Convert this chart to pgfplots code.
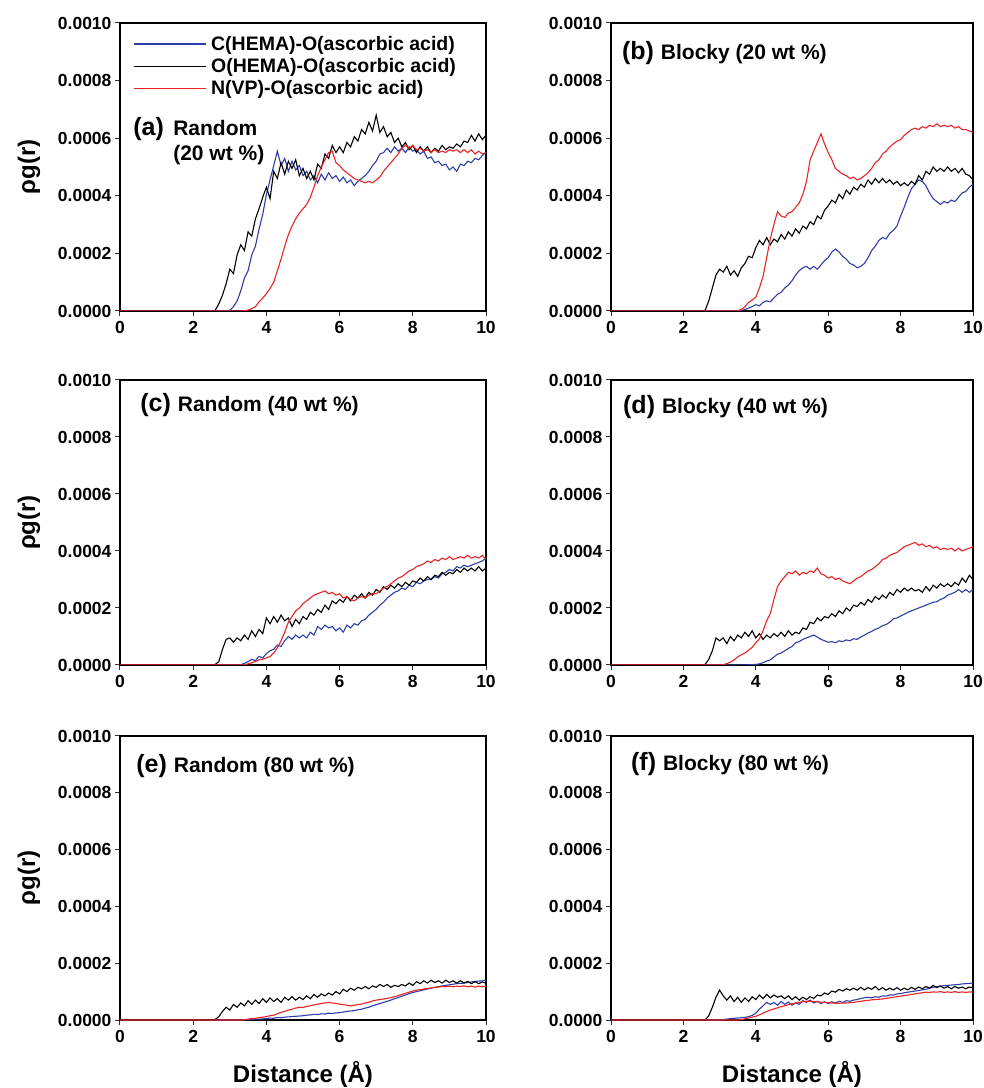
\documentclass[border=0pt]{standalone}
\usepackage{fontspec}
\setmainfont{Liberation Sans}
\usepackage{pgfplots}
\usepackage{pgfplotstable}
\pgfplotsset{compat=1.18}
\definecolor{cblue}{RGB}{45,62,168}
\definecolor{cred}{RGB}{232,36,36}

% units: 1e-4 ; columns x C(HEMA) O(HEMA) N(VP)
\pgfplotstableread{
x C O N
0 0 0 0
2.5 0 0 0
2.6 0 0.02 0
2.7 0 0.25 0
2.8 0 0.55 0
2.9 0 0.95 0
3.0 0.02 1.45 0
3.1 0.15 1.30 0
3.2 0.35 1.95 0
3.3 0.70 2.30 0
3.4 1.15 2.10 0.01
3.5 1.40 2.75 0.03
3.6 1.95 2.60 0.08
3.7 2.25 3.20 0.15
3.8 2.85 3.55 0.32
3.9 3.35 3.95 0.45
4.0 4.05 4.30 0.60
4.1 4.55 3.90 0.78
4.2 5.05 4.85 1.00
4.3 5.55 4.60 1.40
4.4 5.05 5.15 1.80
4.5 5.30 4.75 2.25
4.6 4.85 5.20 2.65
4.7 5.20 4.95 2.95
4.8 4.90 5.25 3.20
4.9 5.05 4.70 3.40
5.0 4.70 4.95 3.55
5.1 4.85 4.60 3.70
5.2 4.55 4.85 3.95
5.3 4.70 4.55 4.30
5.4 4.45 5.10 4.70
5.5 4.75 4.95 5.00
5.6 4.55 5.45 5.25
5.7 4.80 5.30 5.50
5.8 4.60 5.75 5.55
5.9 4.70 5.50 5.15
6.0 4.50 5.70 5.05
6.1 4.65 5.50 4.90
6.2 4.45 5.85 4.80
6.3 4.55 5.70 4.70
6.4 4.35 6.05 4.60
6.5 4.50 5.90 4.55
6.6 4.60 6.30 4.50
6.7 4.70 6.15 4.45
6.8 4.85 6.55 4.50
6.9 5.05 6.25 4.45
7.0 5.20 6.80 4.55
7.1 5.45 6.20 4.65
7.2 5.50 6.40 4.85
7.3 5.65 6.05 5.00
7.4 5.50 6.20 5.15
7.5 5.70 5.85 5.30
7.6 5.55 6.00 5.45
7.7 5.65 5.70 5.65
7.8 5.50 5.85 5.75
7.9 5.70 5.60 5.65
8.0 5.55 5.75 5.75
8.1 5.60 5.50 5.60
8.2 5.45 5.70 5.65
8.3 5.55 5.55 5.55
8.4 5.30 5.70 5.60
8.5 5.35 5.50 5.50
8.6 5.15 5.65 5.60
8.7 5.20 5.55 5.50
8.8 5.05 5.75 5.55
8.9 5.10 5.60 5.50
9.0 4.90 5.70 5.60
9.1 5.00 5.65 5.55
9.2 4.85 5.80 5.60
9.3 5.10 5.70 5.50
9.4 5.05 5.90 5.60
9.5 5.20 5.85 5.50
9.6 5.15 6.10 5.60
9.7 5.30 5.90 5.45
9.8 5.25 6.15 5.55
9.9 5.40 5.95 5.45
10.0 5.50 6.10 5.50
}\dataA

\pgfplotstableread{
x C O N
0 0 0 0
2.5 0 0 0
2.6 0 0.02 0
2.7 0 0.35 0
2.8 0 0.80 0
2.9 0 1.25 0
3.0 0 1.45 0
3.1 0 1.35 0
3.2 0 1.55 0
3.3 0 1.25 0
3.4 0 1.40 0
3.5 0.01 1.20 0.01
3.6 0.02 1.50 0.05
3.7 0.05 1.65 0.15
3.8 0.10 1.90 0.30
3.9 0.15 1.85 0.38
4.0 0.22 2.20 0.48
4.1 0.18 2.45 0.80
4.2 0.30 2.30 1.20
4.3 0.35 2.55 1.85
4.4 0.32 2.30 2.50
4.5 0.45 2.50 3.00
4.6 0.58 2.40 3.45
4.7 0.65 2.65 3.30
4.8 0.80 2.50 3.25
4.9 0.90 2.75 3.40
5.0 1.05 2.60 3.45
5.1 1.25 2.85 3.60
5.2 1.40 2.70 3.75
5.3 1.50 2.95 4.05
5.4 1.55 2.85 4.50
5.5 1.45 3.10 5.25
5.6 1.55 3.00 5.55
5.7 1.45 3.30 5.85
5.8 1.60 3.20 6.15
5.9 1.75 3.50 5.80
6.0 1.85 3.65 5.50
6.1 2.05 3.85 5.25
6.2 2.15 3.75 4.95
6.3 2.05 4.05 4.85
6.4 1.90 3.90 4.75
6.5 1.80 4.20 4.70
6.6 1.65 4.05 4.60
6.7 1.60 4.30 4.65
6.8 1.50 4.20 4.55
6.9 1.55 4.40 4.60
7.0 1.65 4.30 4.70
7.1 1.85 4.55 4.80
7.2 2.10 4.40 4.95
7.3 2.25 4.60 5.15
7.4 2.45 4.45 5.25
7.5 2.55 4.60 5.45
7.6 2.50 4.45 5.55
7.7 2.70 4.55 5.70
7.8 2.80 4.40 5.80
7.9 2.95 4.50 5.90
8.0 3.30 4.35 5.95
8.1 3.60 4.45 6.10
8.2 3.95 4.35 6.20
8.3 4.25 4.50 6.30
8.4 4.40 4.40 6.35
8.5 4.55 4.70 6.30
8.6 4.50 4.55 6.40
8.7 4.35 4.85 6.35
8.8 4.10 4.75 6.45
8.9 3.90 5.00 6.40
9.0 3.80 4.85 6.50
9.1 3.70 4.95 6.40
9.2 3.80 4.85 6.45
9.3 3.75 5.00 6.40
9.4 3.85 4.85 6.45
9.5 3.80 4.95 6.35
9.6 3.95 4.80 6.40
9.7 4.10 4.95 6.30
9.8 4.15 4.75 6.30
9.9 4.30 4.70 6.25
10.0 4.40 4.55 6.20
}\dataB

\pgfplotstableread{
x C O N
0 0 0 0
2.5 0 0 0
2.6 0 0.02 0
2.7 0 0.12 0
2.8 0 0.55 0
2.9 0 0.90 0
3.0 0 0.95 0
3.1 0 0.80 0
3.2 0 0.95 0
3.3 0.01 0.85 0
3.4 0.06 1.05 0.01
3.5 0.12 0.90 0.04
3.6 0.20 1.20 0.08
3.7 0.15 1.00 0.12
3.8 0.30 1.25 0.18
3.9 0.25 1.10 0.20
4.0 0.40 1.65 0.25
4.1 0.50 1.45 0.30
4.2 0.55 1.70 0.42
4.3 0.70 1.50 0.60
4.4 0.65 1.75 0.85
4.5 0.85 1.55 1.15
4.6 1.00 1.65 1.50
4.7 0.90 1.35 1.70
4.8 1.05 1.60 1.90
4.9 0.95 1.45 2.00
5.0 1.05 1.70 2.15
5.1 0.95 1.60 2.25
5.2 1.15 1.85 2.35
5.3 1.05 1.75 2.45
5.4 1.35 1.95 2.50
5.5 1.25 1.85 2.55
5.6 1.40 2.10 2.60
5.7 1.30 1.95 2.50
5.8 1.35 2.25 2.55
5.9 1.20 2.15 2.45
6.0 1.30 2.30 2.50
6.1 1.15 2.20 2.35
6.2 1.40 2.40 2.40
6.3 1.30 2.25 2.30
6.4 1.45 2.45 2.25
6.5 1.40 2.35 2.35
6.6 1.55 2.50 2.40
6.7 1.60 2.35 2.35
6.8 1.75 2.55 2.45
6.9 1.85 2.45 2.50
7.0 1.95 2.65 2.50
7.1 2.10 2.55 2.60
7.2 2.20 2.75 2.70
7.3 2.35 2.65 2.75
7.4 2.45 2.80 2.85
7.5 2.55 2.70 2.95
7.6 2.60 2.85 3.05
7.7 2.70 2.75 3.10
7.8 2.65 2.90 3.20
7.9 2.80 2.80 3.30
8.0 2.75 2.95 3.35
8.1 2.90 2.90 3.45
8.2 2.85 3.05 3.50
8.3 2.95 2.95 3.55
8.4 3.00 3.10 3.65
8.5 3.00 3.00 3.60
8.6 3.10 3.15 3.70
8.7 3.05 3.10 3.65
8.8 3.20 3.25 3.75
8.9 3.25 3.15 3.70
9.0 3.35 3.25 3.80
9.1 3.30 3.20 3.70
9.2 3.45 3.35 3.75
9.3 3.40 3.25 3.80
9.4 3.50 3.40 3.75
9.5 3.45 3.30 3.85
9.6 3.50 3.40 3.75
9.7 3.55 3.30 3.80
9.8 3.60 3.45 3.75
9.9 3.65 3.30 3.85
10.0 3.75 3.40 3.70
}\dataC

\pgfplotstableread{
x C O N
0 0 0 0
2.5 0 0 0
2.6 0 0.02 0
2.7 0 0.20 0
2.8 0 0.50 0
2.9 0 0.95 0
3.0 0 0.85 0
3.1 0 0.95 0.01
3.2 0 0.75 0.05
3.3 0 1.00 0.10
3.4 0 0.85 0.18
3.5 0 1.05 0.28
3.6 0 0.95 0.36
3.7 0 1.15 0.42
3.8 0.01 1.00 0.52
3.9 0.01 1.20 0.62
4.0 0.02 0.95 0.78
4.1 0.04 1.10 0.92
4.2 0.08 0.90 1.20
4.3 0.14 1.05 1.55
4.4 0.18 0.95 1.80
4.5 0.28 1.10 2.30
4.6 0.38 1.00 2.75
4.7 0.42 1.15 2.95
4.8 0.50 1.00 3.10
4.9 0.58 1.20 3.25
5.0 0.65 1.05 3.20
5.1 0.78 1.15 3.30
5.2 0.82 1.10 3.15
5.3 0.90 1.30 3.25
5.4 0.95 1.25 3.20
5.5 1.00 1.50 3.30
5.6 1.05 1.45 3.25
5.7 0.98 1.65 3.40
5.8 0.90 1.55 3.20
5.9 0.85 1.70 3.15
6.0 0.80 1.65 3.05
6.1 0.82 1.80 3.10
6.2 0.78 1.70 3.00
6.3 0.85 1.90 3.05
6.4 0.82 1.80 2.95
6.5 0.88 2.00 2.90
6.6 0.85 1.90 2.85
6.7 0.92 2.10 2.95
6.8 0.90 2.05 3.05
6.9 0.98 2.20 3.10
7.0 1.05 2.10 3.20
7.1 1.12 2.30 3.30
7.2 1.18 2.20 3.35
7.3 1.25 2.40 3.45
7.4 1.30 2.30 3.55
7.5 1.38 2.45 3.70
7.6 1.42 2.35 3.75
7.7 1.50 2.55 3.85
7.8 1.62 2.45 3.90
7.9 1.65 2.65 3.95
8.0 1.72 2.55 4.05
8.1 1.78 2.70 4.15
8.2 1.85 2.60 4.20
8.3 1.90 2.70 4.25
8.4 1.95 2.60 4.30
8.5 2.00 2.65 4.20
8.6 2.05 2.55 4.25
8.7 2.10 2.75 4.15
8.8 2.15 2.60 4.20
8.9 2.20 2.80 4.10
9.0 2.22 2.70 4.15
9.1 2.30 2.85 4.05
9.2 2.35 2.75 4.10
9.3 2.45 2.85 4.05
9.4 2.50 2.75 4.10
9.5 2.55 2.90 4.00
9.6 2.65 2.80 4.10
9.7 2.55 3.05 4.00
9.8 2.65 2.90 4.05
9.9 2.55 3.15 4.10
10.0 2.65 3.00 4.15
}\dataD

\pgfplotstableread{
x C O N
0 0 0 0
2.5 0 0 0
2.6 0 0.02 0
2.7 0 0.12 0
2.8 0 0.30 0
2.9 0 0.45 0
3.0 0 0.35 0
3.1 0 0.55 0
3.2 0 0.45 0
3.3 0 0.60 0
3.4 0 0.50 0.01
3.5 0.01 0.68 0.03
3.6 0.02 0.55 0.05
3.7 0.03 0.70 0.06
3.8 0.03 0.58 0.08
3.9 0.04 0.75 0.10
4.0 0.05 0.62 0.12
4.1 0.07 0.78 0.15
4.2 0.06 0.65 0.17
4.3 0.09 0.75 0.22
4.4 0.08 0.62 0.27
4.5 0.10 0.80 0.30
4.6 0.11 0.70 0.35
4.7 0.12 0.82 0.38
4.8 0.13 0.70 0.42
4.9 0.14 0.80 0.45
5.0 0.15 0.72 0.44
5.1 0.17 0.85 0.48
5.2 0.18 0.75 0.50
5.3 0.20 0.90 0.53
5.4 0.19 0.80 0.56
5.5 0.22 0.92 0.58
5.6 0.21 0.85 0.60
5.7 0.24 0.95 0.62
5.8 0.23 0.88 0.60
5.9 0.25 1.00 0.58
6.0 0.26 0.92 0.56
6.1 0.28 1.08 0.54
6.2 0.30 1.00 0.52
6.3 0.32 1.12 0.50
6.4 0.33 1.05 0.52
6.5 0.36 1.15 0.54
6.6 0.38 1.10 0.56
6.7 0.42 1.18 0.60
6.8 0.45 1.10 0.63
6.9 0.50 1.20 0.67
7.0 0.54 1.15 0.70
7.1 0.58 1.25 0.72
7.2 0.62 1.18 0.74
7.3 0.66 1.25 0.76
7.4 0.70 1.15 0.79
7.5 0.75 1.22 0.82
7.6 0.79 1.18 0.86
7.7 0.84 1.25 0.90
7.8 0.88 1.20 0.94
7.9 0.93 1.30 0.98
8.0 0.97 1.22 1.02
8.1 1.00 1.35 1.05
8.2 1.03 1.28 1.07
8.3 1.06 1.38 1.09
8.4 1.09 1.30 1.11
8.5 1.12 1.40 1.13
8.6 1.15 1.32 1.15
8.7 1.17 1.38 1.16
8.8 1.20 1.30 1.18
8.9 1.22 1.40 1.17
9.0 1.24 1.32 1.19
9.1 1.26 1.38 1.17
9.2 1.28 1.30 1.19
9.3 1.29 1.38 1.18
9.4 1.30 1.30 1.20
9.5 1.32 1.36 1.17
9.6 1.34 1.28 1.19
9.7 1.36 1.35 1.16
9.8 1.37 1.28 1.19
9.9 1.38 1.34 1.17
10.0 1.40 1.30 1.19
}\dataE

\pgfplotstableread{
x C O N
0 0 0 0
2.5 0 0 0
2.6 0 0 0
2.7 0 0.15 0
2.8 0 0.45 0
2.9 0 0.80 0
3.0 0 1.05 0
3.1 0.02 0.85 0
3.2 0.03 0.70 0
3.3 0.05 0.85 0
3.4 0.06 0.65 0
3.5 0.07 0.80 0
3.6 0.08 0.62 0.01
3.7 0.09 0.78 0.04
3.8 0.12 0.65 0.07
3.9 0.16 0.82 0.10
4.0 0.24 0.72 0.13
4.1 0.38 0.88 0.18
4.2 0.50 0.75 0.24
4.3 0.62 0.90 0.30
4.4 0.55 0.78 0.35
4.5 0.62 0.88 0.39
4.6 0.52 0.80 0.43
4.7 0.65 0.85 0.47
4.8 0.55 0.75 0.50
4.9 0.63 0.85 0.54
5.0 0.52 0.72 0.57
5.1 0.60 0.82 0.60
5.2 0.55 0.70 0.62
5.3 0.68 0.80 0.65
5.4 0.62 0.72 0.66
5.5 0.70 0.82 0.66
5.6 0.60 0.76 0.65
5.7 0.66 0.88 0.64
5.8 0.58 0.85 0.63
5.9 0.64 0.95 0.62
6.0 0.58 0.90 0.61
6.1 0.64 1.02 0.60
6.2 0.60 0.98 0.59
6.3 0.66 1.08 0.59
6.4 0.62 1.02 0.60
6.5 0.68 1.10 0.60
6.6 0.66 1.05 0.61
6.7 0.70 1.12 0.62
6.8 0.72 1.05 0.64
6.9 0.76 1.15 0.66
7.0 0.78 1.06 0.68
7.1 0.80 1.14 0.69
7.2 0.78 1.08 0.71
7.3 0.82 1.18 0.72
7.4 0.80 1.06 0.73
7.5 0.85 1.14 0.74
7.6 0.84 1.05 0.76
7.7 0.88 1.12 0.78
7.8 0.88 1.06 0.80
7.9 0.92 1.14 0.82
8.0 0.93 1.05 0.84
8.1 0.96 1.12 0.86
8.2 0.98 1.06 0.88
8.3 1.00 1.15 0.90
8.4 1.02 1.08 0.92
8.5 1.04 1.16 0.94
8.6 1.06 1.10 0.96
8.7 1.08 1.18 0.98
8.8 1.12 1.12 0.97
8.9 1.15 1.22 0.99
9.0 1.18 1.14 0.98
9.1 1.19 1.20 1.00
9.2 1.21 1.12 0.97
9.3 1.22 1.18 0.99
9.4 1.23 1.10 0.97
9.5 1.24 1.18 1.00
9.6 1.25 1.12 0.97
9.7 1.27 1.16 0.99
9.8 1.28 1.10 0.97
9.9 1.29 1.16 0.99
10.0 1.30 1.14 0.98
}\dataF

\pgfplotsset{
  rdf/.style={
    scale only axis, anchor=south west,
    xmin=0, xmax=10, ymin=0, ymax=0.001,
    xtick={0,2,4,6,8,10}, xticklabels={0,2,4,6,8,10},
    ytick={0,0.0002,0.0004,0.0006,0.0008,0.001},
    yticklabels={0.0000,0.0002,0.0004,0.0006,0.0008,0.0010},
    scaled y ticks=false, scaled x ticks=false,
    tick align=outside, xtick pos=left, ytick pos=left,
    major tick length=5pt,
    tick style={line width=1pt, black!80},
    axis line style={line width=1.8pt},
    tick label style={font=\fontsize{17.5}{18}\selectfont\bfseries},
    xticklabel style={yshift=-2pt},
    clip=true,
  },
  cC/.style={color=cblue, line width=1.1pt},
  cO/.style={color=black, line width=1.1pt},
  cN/.style={color=cred, line width=1.1pt},
  ylab/.style={ylabel={ρg(r)}, ylabel style={font=\fontsize{24}{24}\selectfont\bfseries, at={(axis description cs:-0.249,0.5)}, anchor=center}},
  xlab/.style={xlabel={Distance (Å)}, xlabel style={font=\fontsize{24}{24}\selectfont\bfseries, at={(axis description cs:0.5,-0.19)}, anchor=center}},
}
\newcommand{\pl}[1]{{\fontsize{25}{25}\selectfont #1}}
\newcommand{\pt}{\fontsize{21}{21}\selectfont\bfseries}

\begin{document}
\begin{tikzpicture}[x=1pt,y=1pt]
\useasboundingbox (0,0) rectangle (984,1088);

% (a)
\begin{axis}[rdf, ylab, at={(120pt,777pt)}, width=366pt, height=288pt,
  legend style={at={(0.035,0.955)}, anchor=north west, draw=none, fill=none,
    font=\fontsize{19.5}{20}\selectfont\bfseries, row sep=6.5pt, inner sep=0pt,
    nodes={inner xsep=5pt, inner ysep=0pt}},
  legend cell align=left,
  legend image code/.code={\draw[#1] (0pt,0pt) -- (62pt,0pt); \path (0pt,0pt) -- (72pt,0pt);}]
\addplot[cC] table[x=x, y expr=\thisrow{C}*0.0001] {\dataA};
\addlegendentry{C(HEMA)-O(ascorbic acid)}
\addplot[cO] table[x=x, y expr=\thisrow{O}*0.0001] {\dataA};
\addlegendentry{O(HEMA)-O(ascorbic acid)}
\addplot[cN] table[x=x, y expr=\thisrow{N}*0.0001] {\dataA};
\addlegendentry{N(VP)-O(ascorbic acid)}
\node[anchor=base west, inner sep=0pt] at (rel axis cs:0.036,0.611) {\bfseries\pl{(a)}};
\node[anchor=base west, inner sep=0pt] at (rel axis cs:0.145,0.611) {\pt Random};
\node[anchor=base west, inner sep=0pt] at (rel axis cs:0.145,0.524) {\pt (20 wt \%)};
\end{axis}

% (b)
\begin{axis}[rdf, at={(611pt,777pt)}, width=362pt, height=288pt]
\addplot[cC] table[x=x, y expr=\thisrow{C}*0.0001] {\dataB};
\addplot[cO] table[x=x, y expr=\thisrow{O}*0.0001] {\dataB};
\addplot[cN] table[x=x, y expr=\thisrow{N}*0.0001] {\dataB};
\node[anchor=base west, inner sep=0pt] at (rel axis cs:0.030,0.872) {\bfseries\pl{(b)}\hspace{7pt}\pt Blocky (20 wt \%)};
\end{axis}

% (c)
\begin{axis}[rdf, ylab, at={(120pt,423pt)}, width=366pt, height=285pt]
\addplot[cC] table[x=x, y expr=\thisrow{C}*0.0001] {\dataC};
\addplot[cO] table[x=x, y expr=\thisrow{O}*0.0001] {\dataC};
\addplot[cN] table[x=x, y expr=\thisrow{N}*0.0001] {\dataC};
\node[anchor=base west, inner sep=0pt] at (rel axis cs:0.055,0.888) {\bfseries\pl{(c)}\hspace{7pt}\pt Random (40 wt \%)};
\end{axis}

% (d)
\begin{axis}[rdf, at={(611pt,423pt)}, width=362pt, height=285pt]
\addplot[cC] table[x=x, y expr=\thisrow{C}*0.0001] {\dataD};
\addplot[cO] table[x=x, y expr=\thisrow{O}*0.0001] {\dataD};
\addplot[cN] table[x=x, y expr=\thisrow{N}*0.0001] {\dataD};
\node[anchor=base west, inner sep=0pt] at (rel axis cs:0.033,0.884) {\bfseries\pl{(d)}\hspace{7pt}\pt Blocky (40 wt \%)};
\end{axis}

% (e)
\begin{axis}[rdf, ylab, xlab, at={(120pt,68pt)}, width=366pt, height=284pt]
\addplot[cC] table[x=x, y expr=\thisrow{C}*0.0001] {\dataE};
\addplot[cO] table[x=x, y expr=\thisrow{O}*0.0001] {\dataE};
\addplot[cN] table[x=x, y expr=\thisrow{N}*0.0001] {\dataE};
\node[anchor=base west, inner sep=0pt] at (rel axis cs:0.044,0.873) {\bfseries\pl{(e)}\hspace{7pt}\pt Random (80 wt \%)};
\end{axis}

% (f)
\begin{axis}[rdf, xlab, at={(611pt,68pt)}, width=362pt, height=284pt]
\addplot[cC] table[x=x, y expr=\thisrow{C}*0.0001] {\dataF};
\addplot[cO] table[x=x, y expr=\thisrow{O}*0.0001] {\dataF};
\addplot[cN] table[x=x, y expr=\thisrow{N}*0.0001] {\dataF};
\node[anchor=base west, inner sep=0pt] at (rel axis cs:0.055,0.877) {\bfseries\pl{(f)}\hspace{7pt}\pt Blocky (80 wt \%)};
\end{axis}
\end{tikzpicture}
\end{document}
